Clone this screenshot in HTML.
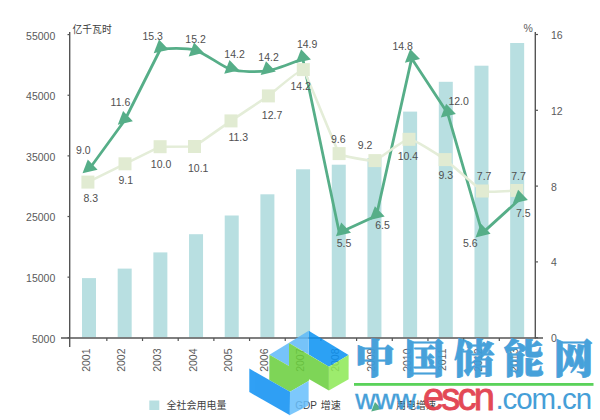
<!DOCTYPE html>
<html><head><meta charset="utf-8"><style>
html,body{margin:0;padding:0;background:#fff;}
body{width:600px;height:420px;overflow:hidden;position:relative;font-family:"Liberation Sans",Arial,"Noto Sans CJK SC",sans-serif;}
svg{position:absolute;left:0;top:0;}
</style></head><body>
<svg width="600" height="420" viewBox="0 0 600 420">
<rect x="82.00" y="278.10" width="14" height="59.20" fill="#b8dfe1"/>
<rect x="117.68" y="268.60" width="14" height="68.70" fill="#b8dfe1"/>
<rect x="153.36" y="252.40" width="14" height="84.90" fill="#b8dfe1"/>
<rect x="189.04" y="234.20" width="14" height="103.10" fill="#b8dfe1"/>
<rect x="224.72" y="215.50" width="14" height="121.80" fill="#b8dfe1"/>
<rect x="260.40" y="194.30" width="14" height="143.00" fill="#b8dfe1"/>
<rect x="296.08" y="169.30" width="14" height="168.00" fill="#b8dfe1"/>
<rect x="331.76" y="164.70" width="14" height="172.60" fill="#b8dfe1"/>
<rect x="367.44" y="158.00" width="14" height="179.30" fill="#b8dfe1"/>
<rect x="403.12" y="111.60" width="14" height="225.70" fill="#b8dfe1"/>
<rect x="438.80" y="81.80" width="14" height="255.50" fill="#b8dfe1"/>
<rect x="474.48" y="65.70" width="14" height="271.60" fill="#b8dfe1"/>
<rect x="510.16" y="43.00" width="14" height="294.30" fill="#b8dfe1"/>
<g stroke="#555" stroke-width="1.4" fill="none">
<line x1="69.7" y1="32" x2="69.7" y2="347"/>
<line x1="535.3" y1="32" x2="535.3" y2="338.5"/>
<line x1="61" y1="338" x2="543" y2="338"/>
</g>
<g stroke="#555" stroke-width="1.2">
<line x1="67.5" y1="34.60" x2="69.7" y2="34.60"/>
<line x1="67.5" y1="95.24" x2="69.7" y2="95.24"/>
<line x1="67.5" y1="155.88" x2="69.7" y2="155.88"/>
<line x1="67.5" y1="216.52" x2="69.7" y2="216.52"/>
<line x1="67.5" y1="277.16" x2="69.7" y2="277.16"/>
<line x1="67.5" y1="337.80" x2="69.7" y2="337.80"/>
<line x1="535.3" y1="34.50" x2="538" y2="34.50"/>
<line x1="535.3" y1="110.30" x2="538" y2="110.30"/>
<line x1="535.3" y1="186.10" x2="538" y2="186.10"/>
<line x1="535.3" y1="261.90" x2="538" y2="261.90"/>
<line x1="535.3" y1="337.70" x2="538" y2="337.70"/>
<line x1="106.84" y1="338" x2="106.84" y2="341"/>
<line x1="142.52" y1="338" x2="142.52" y2="341"/>
<line x1="178.20" y1="338" x2="178.20" y2="341"/>
<line x1="213.88" y1="338" x2="213.88" y2="341"/>
<line x1="249.56" y1="338" x2="249.56" y2="341"/>
<line x1="285.24" y1="338" x2="285.24" y2="341"/>
<line x1="320.92" y1="338" x2="320.92" y2="341"/>
<line x1="356.60" y1="338" x2="356.60" y2="341"/>
<line x1="392.28" y1="338" x2="392.28" y2="341"/>
<line x1="427.96" y1="338" x2="427.96" y2="341"/>
<line x1="463.64" y1="338" x2="463.64" y2="341"/>
<line x1="499.32" y1="338" x2="499.32" y2="341"/>
</g>
<path d="M89.30,169.00 C89.30,169.00 124.60,120.50 124.60,120.50 C124.60,120.50 160.50,49.00 160.50,49.00 C160.50,49.00 185.63,47.43 195.50,50.30 C205.37,53.17 222.36,67.04 231.00,69.50 C239.64,71.96 258.88,72.08 267.50,70.80 C276.12,69.52 302.80,58.80 302.80,58.80 C302.80,58.80 339.30,232.80 339.30,232.80 C339.30,232.80 376.40,215.80 376.40,215.80 C376.40,215.80 411.70,58.40 411.70,58.40 C411.70,58.40 447.60,113.20 447.60,113.20 C447.60,113.20 482.30,233.10 482.30,233.10 C482.30,233.10 519.60,199.30 519.60,199.30" fill="none" stroke="#56ae88" stroke-width="2.8" stroke-linejoin="round"/>
<path d="M87.90,182.10 C87.90,182.10 125.00,163.80 125.00,163.80 C125.00,163.80 160.10,146.70 160.10,146.70 C160.10,146.70 194.50,146.50 194.50,146.50 C194.50,146.50 228.78,122.42 231.00,120.90 C233.22,119.38 266.23,97.44 268.40,95.90 C270.57,94.36 301.18,67.87 303.30,69.60 C305.42,71.33 336.95,150.87 339.10,153.60 C341.25,156.33 371.40,161.31 374.90,160.60 C378.39,159.88 403.38,139.38 409.00,139.30 C414.62,139.22 439.22,155.46 445.10,159.60 C450.98,163.74 478.92,189.46 482.50,191.00 C486.08,192.54 516.80,190.50 516.80,190.50" fill="none" stroke="#e4edd8" stroke-width="2.6" stroke-linejoin="round"/>
<rect x="81.40" y="175.60" width="13" height="13" fill="#e1ebd2"/>
<rect x="118.50" y="157.30" width="13" height="13" fill="#e1ebd2"/>
<rect x="153.60" y="140.20" width="13" height="13" fill="#e1ebd2"/>
<rect x="188.00" y="140.00" width="13" height="13" fill="#e1ebd2"/>
<rect x="224.50" y="114.40" width="13" height="13" fill="#e1ebd2"/>
<rect x="261.90" y="89.40" width="13" height="13" fill="#e1ebd2"/>
<rect x="296.80" y="63.10" width="13" height="13" fill="#e1ebd2"/>
<rect x="332.60" y="147.10" width="13" height="13" fill="#e1ebd2"/>
<rect x="368.40" y="154.10" width="13" height="13" fill="#e1ebd2"/>
<rect x="402.50" y="132.80" width="13" height="13" fill="#e1ebd2"/>
<rect x="438.60" y="153.10" width="13" height="13" fill="#e1ebd2"/>
<rect x="476.00" y="184.50" width="13" height="13" fill="#e1ebd2"/>
<rect x="510.30" y="184.00" width="13" height="13" fill="#e1ebd2"/>
<polygon points="87.80,159.50 82.50,173.30 97.60,169.70" fill="#56ae88"/>
<polygon points="123.10,111.00 117.80,124.80 132.90,121.20" fill="#56ae88"/>
<polygon points="159.00,39.50 153.70,53.30 168.80,49.70" fill="#56ae88"/>
<polygon points="194.00,42.60 188.70,56.40 203.80,52.80" fill="#56ae88"/>
<polygon points="229.50,60.00 224.20,73.80 239.30,70.20" fill="#56ae88"/>
<polygon points="266.00,61.30 260.70,75.10 275.80,71.50" fill="#56ae88"/>
<polygon points="301.10,49.30 295.80,63.10 310.90,59.50" fill="#56ae88"/>
<polygon points="341.20,222.50 335.90,236.30 351.00,232.70" fill="#56ae88"/>
<polygon points="374.90,206.30 369.60,220.10 384.70,216.50" fill="#56ae88"/>
<polygon points="410.20,48.90 404.90,62.70 420.00,59.10" fill="#56ae88"/>
<polygon points="446.10,103.70 440.80,117.50 455.90,113.90" fill="#56ae88"/>
<polygon points="480.80,223.60 475.50,237.40 490.60,233.80" fill="#56ae88"/>
<polygon points="518.10,189.80 512.80,203.60 527.90,200.00" fill="#56ae88"/>
<g font-family="Liberation Sans, Arial, sans-serif" font-size="10.5" fill="#505050">
<text x="76.10" y="153.80">9.0</text>
<text x="110.60" y="106.00">11.6</text>
<text x="142.50" y="40.10">15.3</text>
<text x="185.30" y="42.50">15.2</text>
<text x="224.30" y="58.00">14.2</text>
<text x="258.30" y="60.50">14.2</text>
<text x="296.90" y="48.30">14.9</text>
<text x="336.70" y="246.50">5.5</text>
<text x="375.20" y="229.10">6.5</text>
<text x="392.40" y="49.70">14.8</text>
<text x="448.40" y="104.90">12.0</text>
<text x="463.00" y="246.50">5.6</text>
<text x="515.90" y="216.50">7.5</text>
<text x="83.50" y="201.70">8.3</text>
<text x="118.50" y="183.80">9.1</text>
<text x="150.80" y="168.40">10.0</text>
<text x="188.00" y="171.50">10.1</text>
<text x="228.40" y="140.60">11.3</text>
<text x="261.80" y="118.70">12.7</text>
<text x="290.50" y="90.10">14.2</text>
<text x="331.00" y="142.80">9.6</text>
<text x="357.80" y="148.50">9.2</text>
<text x="397.70" y="159.90">10.4</text>
<text x="438.50" y="178.70">9.3</text>
<text x="476.80" y="179.70">7.7</text>
<text x="511.20" y="179.70">7.7</text>
</g>
<g font-family="Liberation Sans, Arial, sans-serif" font-size="10.5" fill="#5a5a5a">
<text x="55.3" y="39.50" text-anchor="end">55000</text>
<text x="55.3" y="100.14" text-anchor="end">45000</text>
<text x="55.3" y="160.78" text-anchor="end">35000</text>
<text x="55.3" y="221.42" text-anchor="end">25000</text>
<text x="55.3" y="282.06" text-anchor="end">15000</text>
<text x="55.3" y="342.70" text-anchor="end">5000</text>
<text x="551" y="38.90">16</text>
<text x="551" y="114.70">12</text>
<text x="551" y="190.50">8</text>
<text x="551" y="266.30">4</text>
<text x="551" y="342.10">0</text>
<text x="523.5" y="32">%</text>
<text transform="translate(89.50,348.5) rotate(-90)" text-anchor="end">2001</text>
<text transform="translate(125.18,348.5) rotate(-90)" text-anchor="end">2002</text>
<text transform="translate(160.86,348.5) rotate(-90)" text-anchor="end">2003</text>
<text transform="translate(196.54,348.5) rotate(-90)" text-anchor="end">2004</text>
<text transform="translate(232.22,348.5) rotate(-90)" text-anchor="end">2005</text>
<text transform="translate(267.90,348.5) rotate(-90)" text-anchor="end">2006</text>
<text transform="translate(303.58,348.5) rotate(-90)" text-anchor="end">2007</text>
<text transform="translate(339.26,348.5) rotate(-90)" text-anchor="end">2008</text>
<text transform="translate(374.94,348.5) rotate(-90)" text-anchor="end">2009</text>
<text transform="translate(410.62,348.5) rotate(-90)" text-anchor="end">2010</text>
<text transform="translate(446.30,348.5) rotate(-90)" text-anchor="end">2011</text>
<text transform="translate(481.98,348.5) rotate(-90)" text-anchor="end">2012</text>
<text transform="translate(517.66,348.5) rotate(-90)" text-anchor="end">2013</text>
</g>
<text x="72.5" y="33.3" font-family="Liberation Sans, Noto Sans CJK SC, sans-serif" font-size="9.8" fill="#404040">亿千瓦时</text>
<rect x="149.3" y="400.5" width="10" height="9.5" fill="#b8dfe1"/>
<g font-family="Liberation Sans, Noto Sans CJK SC, sans-serif" font-size="10" fill="#404040">
<text x="166.5" y="408.6">全社会用电量</text>
<text x="295.3" y="408.8" word-spacing="1.3">GDP 增速</text>
<text x="396" y="408.8">用电增速</text>
</g>
<polygon points="374.95,401.90 371.24,411.56 381.81,409.04" fill="#56ae88"/>
<g opacity="0.86">
<polygon points="308.7,330.7 348.6,355 328.9,366.7 308.7,354.5" fill="#0a92f3"/>
<polygon points="269.4,354.8 308.7,330.7 308.7,354.5 289,342.9 289,366.1" fill="#60baf9"/>
<polygon points="328.9,366.7 348.6,355 348.6,379.2 328.9,390.5" fill="#8eea56"/>
<polygon points="289,342.9 328.9,366.7 328.9,390.5 309.3,379.2 308.6,381.1 290,391.7 269.3,380 269.4,354.8 289,366.1" fill="#6acf3c"/>
<polygon points="249.3,368.6 290,391.7 290,415.2 249.3,392.1" fill="#0e90f3"/>
<polygon points="290,391.7 308.6,381.1 308.6,405.5 289.5,415.2" fill="#68bffc"/>
</g>
<g opacity="0.95">
<text x="354.7" y="373" font-family="Liberation Serif, Noto Serif CJK SC, serif" font-weight="900" font-size="40" letter-spacing="9.7" fill="#3e9dd9" stroke="#3e9dd9" stroke-width="0.8" stroke-linejoin="round">中国储能网</text>
<rect x="354" y="383" width="239.5" height="2.8" fill="#52d052"/>
<text x="355.2" y="408.7" font-family="Liberation Sans, Arial, sans-serif" font-size="28" fill="#3c9ad6" stroke="#3c9ad6" stroke-width="0.4">www.</text>
<text x="423" y="410" font-family="Liberation Sans, Arial, sans-serif" font-size="38" letter-spacing="-2.8" fill="#e2404e" stroke="#e2404e" stroke-width="0.9">escn</text>
<text x="495.5" y="409" font-family="Liberation Sans, Arial, sans-serif" font-size="29.5" letter-spacing="-1.1" fill="#3c9ad6">.com.cn</text>
</g>
</svg>
</body></html>
